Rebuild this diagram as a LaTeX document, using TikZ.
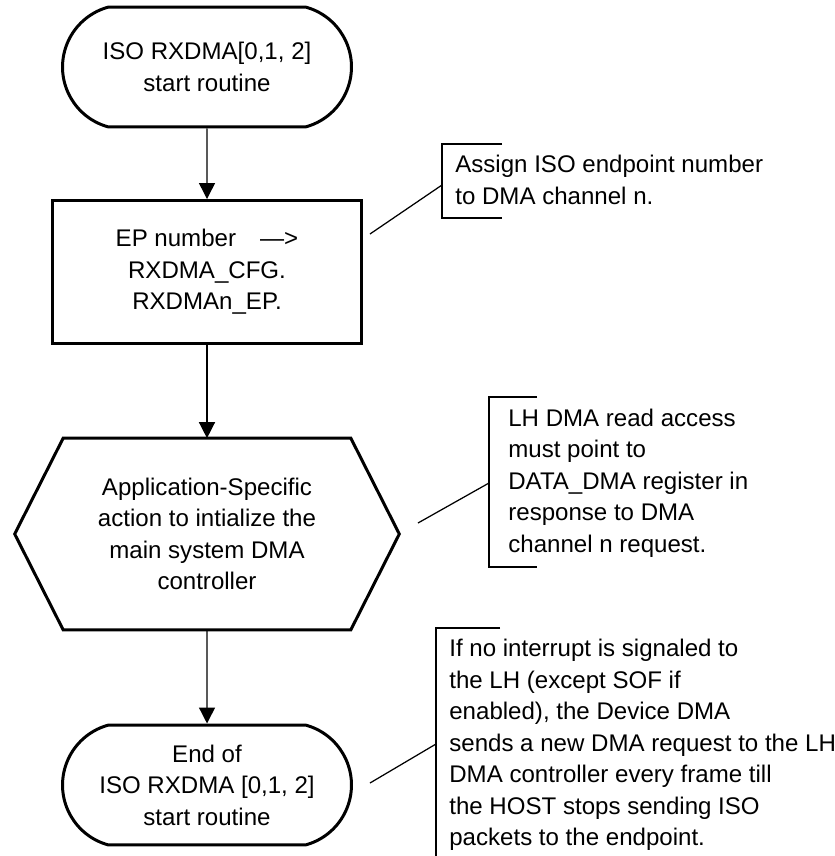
\documentclass[tikz,border=0pt]{standalone}
\usepackage{fontspec}
\setmainfont{Liberation Sans}
\usetikzlibrary{arrows.meta,shapes.misc,positioning}

\begin{document}
\begin{tikzpicture}[x=0.02cm, y=-0.02cm,
    font=\fontsize{13.7}{17.9}\selectfont,
    every node/.style={align=center, inner sep=0pt},
    terminal/.style={draw, line width=0.6mm, rounded rectangle, rounded rectangle arc length=150,
      minimum width=5.78cm, minimum height=2.4cm},
    procbox/.style={draw, line width=0.6mm, minimum width=6.2cm, minimum height=2.86cm},
    hexbox/.style={minimum width=5.74cm, minimum height=3.82cm},
    note/.style={anchor=west, align=left},
    flow/.style={line width=0.28mm, -{Triangle[length=3.2mm,width=3.2mm]}},
    thinline/.style={line width=0.25mm}]
  \useasboundingbox (0,0) rectangle (835,856);

  % flow chart
  \node[terminal] (start) at (207,67) {ISO RXDMA[0,1, 2]\\start routine};
  \node[procbox] (cfg) at (207,272) {EP number\quad\textemdash>\\RXDMA\_CFG.\\RXDMAn\_EP.};
  \node[hexbox] (act) at (207,534) {Application-Specific\\action to intialize the\\main system DMA\\controller};
  \draw[line width=0.6mm] (act.north west) -- (act.north east) -- ([xshift=0.97cm]act.east)
    -- (act.south east) -- (act.south west) -- ([xshift=-0.97cm]act.west) -- cycle;
  \node[terminal] (stop) at (207,785) {End of\\ISO RXDMA [0,1, 2]\\start routine};

  \draw[flow] (start) -- (cfg);
  \draw[flow] (cfg) -- (act);
  \draw[flow] (act) -- (stop);

  % notes
  \node[note] (note1) at (455,180) {Assign ISO endpoint number\\to DMA channel n.};
  \draw[thinline] (502,144) -| (442,218) -- (502,218);
  \coordinate (lead1a) at (442,185);
  \coordinate (lead1b) at (370,234);
  \draw[thinline] (lead1a) -- (lead1b);

  \node[note] (note2) at (508,483) {LH DMA read access\\must point to\\DATA\_DMA register in\\response to DMA\\channel n request.};
  \draw[thinline] (537,397) -| (489,567) -- (537,567);
  \coordinate (lead2a) at (489,483);
  \coordinate (lead2b) at (418,523);
  \draw[thinline] (lead2a) -- (lead2b);

  \node[note] (note3) at (449,745) {If no interrupt is signaled to\\the LH (except SOF if\\enabled), the Device DMA\\sends a new DMA request to the LH\\DMA controller every frame till\\the HOST stops sending ISO\\packets to the endpoint.};
  \draw[thinline] (500,628) -| (436,856);
  \coordinate (lead3a) at (436,744);
  \coordinate (lead3b) at (370,783);
  \draw[thinline] (lead3a) -- (lead3b);
\end{tikzpicture}
\end{document}
